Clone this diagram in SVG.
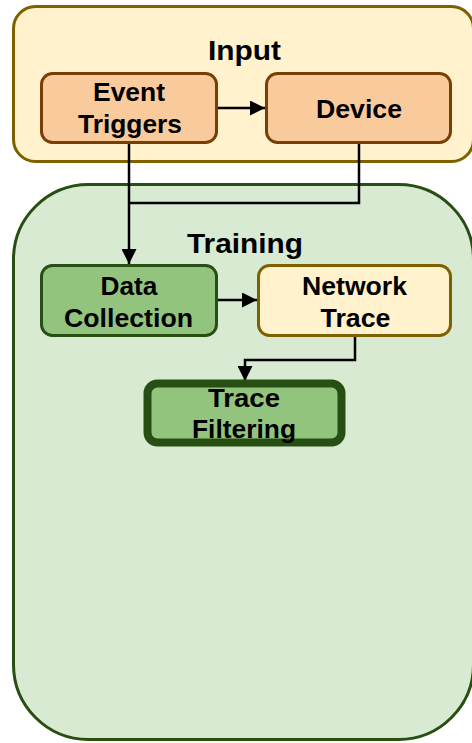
<svg xmlns="http://www.w3.org/2000/svg" width="472" height="743" viewBox="0 0 472 743">
  <defs>
    <marker id="arrow" viewBox="0 0 10 10" refX="10" refY="5" markerWidth="6" markerHeight="6" markerUnits="strokeWidth" orient="auto">
      <path d="M0,0 L10,5 L0,10 z" fill="#000"/>
    </marker>
    <style>
      text { font-family: "Liberation Sans", Arial, sans-serif; font-weight: bold; fill: #000; text-anchor: middle; }
      .title { font-size: 27px; }
      .label { font-size: 25px; }
      .input-group { fill: #fff2cc; stroke: #7f6000; stroke-width: 3; }
      .training-group { fill: #d9ead3; stroke: #274e13; stroke-width: 3; }
      .orange { fill: #f9cb9c; stroke: #783f04; stroke-width: 3; }
      .green { fill: #93c47d; stroke: #274e13; stroke-width: 3; }
      .yellow { fill: #fff2cc; stroke: #7f6000; stroke-width: 3; }
      .green-bold { fill: #93c47d; stroke: #274e13; stroke-width: 8; }
      .edge { fill: none; stroke: #000; stroke-width: 2.5; }
    </style>
  </defs>

  <!-- container groups -->
  <g id="input">
    <rect class="input-group" x="13.5" y="6.5" width="460" height="155" rx="22"/>
    <text class="title" x="244.5" y="59.5" textLength="73" lengthAdjust="spacingAndGlyphs">Input</text>
  </g>
  <g id="training">
    <rect class="training-group" x="13.5" y="184.5" width="460" height="555" rx="75"/>
    <text class="title" x="245" y="252.5" textLength="116" lengthAdjust="spacingAndGlyphs">Training</text>
  </g>

  <!-- connectors -->
  <g id="connectors">
    <path class="edge" d="M129,144 V264" marker-end="url(#arrow)"/>
    <path class="edge" d="M359,144 V203 H129"/>
    <path class="edge" d="M218,108 H265" marker-end="url(#arrow)"/>
    <path class="edge" d="M218,300 H257" marker-end="url(#arrow)"/>
    <path class="edge" d="M355,337 V360 H245 V381" marker-end="url(#arrow)"/>
  </g>

  <!-- nodes -->
  <g id="event-triggers">
    <rect class="orange" x="41.5" y="73.5" width="175" height="69" rx="11"/>
    <text class="label" x="129" y="101" textLength="72" lengthAdjust="spacingAndGlyphs">Event</text>
    <text class="label" x="130" y="133" textLength="104" lengthAdjust="spacingAndGlyphs">Triggers</text>
  </g>
  <g id="device">
    <rect class="orange" x="266.5" y="73.5" width="184" height="69" rx="11"/>
    <text class="label" x="359" y="118" textLength="86" lengthAdjust="spacingAndGlyphs">Device</text>
  </g>
  <g id="data-collection">
    <rect class="green" x="41.5" y="265.5" width="175" height="70" rx="11"/>
    <text class="label" x="129" y="294.5" textLength="57" lengthAdjust="spacingAndGlyphs">Data</text>
    <text class="label" x="128.5" y="327" textLength="129" lengthAdjust="spacingAndGlyphs">Collection</text>
  </g>
  <g id="network-trace">
    <rect class="yellow" x="258.5" y="265.5" width="192" height="70" rx="11"/>
    <text class="label" x="354.5" y="294.5" textLength="105" lengthAdjust="spacingAndGlyphs">Network</text>
    <text class="label" x="355.5" y="327" textLength="70" lengthAdjust="spacingAndGlyphs">Trace</text>
  </g>
  <g id="trace-filtering">
    <rect class="green-bold" x="147.5" y="383.5" width="194" height="59" rx="10"/>
    <text class="label" x="244" y="407" textLength="72" lengthAdjust="spacingAndGlyphs">Trace</text>
    <text class="label" x="244" y="438" textLength="104" lengthAdjust="spacingAndGlyphs">Filtering</text>
  </g>
</svg>
